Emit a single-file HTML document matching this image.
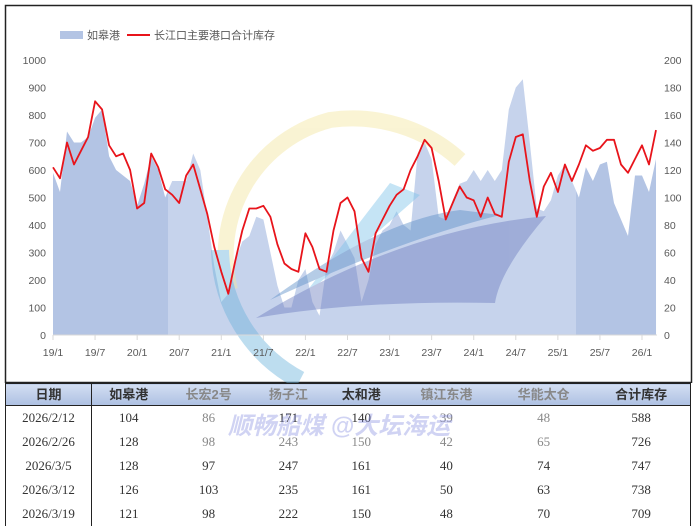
<!DOCTYPE html>
<html><head><meta charset="utf-8">
<style>
body{margin:0;background:#fff;width:694px;height:528px;overflow:hidden;font-family:"Liberation Sans","Noto Sans CJK SC",sans-serif;}
#wrap{position:relative;width:694px;height:528px;}
svg{position:absolute;left:0;top:0;}
table{position:absolute;left:5px;top:383px;width:686px;border-collapse:collapse;font-family:"Liberation Serif","Noto Serif CJK SC",serif;font-size:13px;color:#333;}
th{height:21px;padding:0;line-height:21px;font-family:"Liberation Sans","Noto Sans CJK SC",sans-serif;font-weight:bold;font-size:13px;background:linear-gradient(#d3def2,#adc0e2);border-top:1px solid #222;border-bottom:1px solid #222;}
td{height:24px;padding:0;line-height:24px;text-align:center;}
.g{color:#888;}
.c1{border-right:1px solid #222;}
tr td:last-child,tr th:last-child{border-right:1px solid #222;}
tr td:first-child,tr th:first-child{border-left:1px solid #222;}
</style></head><body>
<div id="wrap">
<svg id="chart" width="694" height="383"></svg>
<table>
<tr><th class="c1" style="width:85px">日期</th><th>如皋港</th><th class="g">长宏2号</th><th class="g">扬子江</th><th>太和港</th><th class="g">镇江东港</th><th class="g">华能太仓</th><th>合计库存</th></tr>
<tr><td class="c1">2026/2/12</td><td>104</td><td class="g">86</td><td>171</td><td>140</td><td class="g">39</td><td class="g">48</td><td>588</td></tr>
<tr><td class="c1">2026/2/26</td><td>128</td><td class="g">98</td><td class="g">243</td><td class="g">150</td><td class="g">42</td><td class="g">65</td><td>726</td></tr>
<tr><td class="c1">2026/3/5</td><td>128</td><td>97</td><td>247</td><td>161</td><td>40</td><td>74</td><td>747</td></tr>
<tr><td class="c1">2026/3/12</td><td>126</td><td>103</td><td>235</td><td>161</td><td>50</td><td>63</td><td>738</td></tr>
<tr><td class="c1">2026/3/19</td><td>121</td><td>98</td><td>222</td><td>150</td><td>48</td><td>70</td><td>709</td></tr>
</table>
<div style="position:absolute;left:228px;top:406px;font-size:24px;font-weight:bold;font-style:italic;color:rgba(120,130,220,0.35);font-family:'Liberation Sans','Noto Sans CJK SC',sans-serif;">顺畅船煤 @大坛海运</div>
</div>
<script>
const xTicks=["19/1","19/7","20/1","20/7","21/1","21/7","22/1","22/7","23/1","23/7","24/1","24/7","25/1","25/7","26/1"];
const leftTicks=[0,100,200,300,400,500,600,700,800,900,1000];
const rightTicks=[0,20,40,60,80,100,120,140,160,180,200];
const totalInv=[610,570,700,620,670,720,850,820,690,650,660,600,460,480,660,610,530,510,480,580,620,530,440,320,230,150,270,380,460,460,470,430,330,260,240,230,370,320,240,230,380,480,500,450,280,230,370,420,470,510,530,600,650,710,680,560,420,480,540,500,490,430,500,440,430,630,720,730,560,430,540,590,520,620,560,620,690,670,680,710,710,620,590,640,690,620,745];
const rugaoLeftEq=[590,520,740,700,700,720,790,820,650,600,580,560,470,550,650,600,500,560,560,560,660,600,430,250,120,150,270,340,360,430,420,300,180,100,100,200,240,120,70,250,300,380,330,280,120,200,330,380,400,450,400,380,660,700,640,430,420,490,550,560,600,560,600,560,600,820,900,930,700,460,450,490,580,620,560,500,610,560,620,630,480,420,360,580,580,520,640];
const rugao=rugaoLeftEq.map(v=>v/5);
const NS="http://www.w3.org/2000/svg";
const svg=document.getElementById('chart');
const X0=53,MPX=7.012,Y0=335,YH=275;
const xs=m=>X0+m*MPX;
const yL=v=>Y0-v/1000*YH;
const yR=v=>Y0-v/200*YH;
function el(t,a,p){const e=document.createElementNS(NS,t);for(const k in a)e.setAttribute(k,a[k]);(p||svg).appendChild(e);return e;}
const frame=el('rect',{x:5.5,y:5.5,width:686,height:377,fill:'#fff',stroke:'#222','stroke-width':1.5});


let d=`M${xs(0)},${Y0}`;rugao.forEach((v,i)=>d+=`L${xs(i).toFixed(1)},${yR(v).toFixed(1)}`);d+=`L${xs(rugao.length-1)},${Y0}Z`;
const defs=el('defs',{});
const c1=el('clipPath',{id:'c1'},defs);el('rect',{x:0,y:0,width:168,height:400},c1);
const c2=el('clipPath',{id:'c2'},defs);el('rect',{x:168,y:0,width:408,height:400},c2);
const c3=el('clipPath',{id:'c3'},defs);el('rect',{x:576,y:0,width:200,height:400},c3);
[['c1','#b3c4e4'],['c2','#c6d3ec'],['c3','#b3c4e4']].forEach(([c,f])=>{
 const a=el('path',{d:d,fill:f,'clip-path':`url(#${c})`});
 
 
});
const wm=el('g',{opacity:0.45});


el('path',{d:'M230,290 A140,140 0 0 1 330,120 A160,160 0 0 1 460,160',fill:'none',stroke:'#f3e6a0','stroke-width':16},wm);
el('path',{d:'M220,250 A150,150 0 0 0 300,380',fill:'none',stroke:'#6fb4dc','stroke-width':18},wm);
el('path',{d:'M300,300 L390,183 L420,195 Z',fill:'#7fc4ea'},wm);
el('path',{d:'M270,300 Q380,220 460,210 L500,215 Q400,240 270,300 Z',fill:'#5d8fc8'},wm);
el('path',{d:'M256,318 Q400,230 546,216 Q500,270 495,303 Q360,300 256,318 Z',fill:'#6f7fc0'},wm);
el('line',{x1:X0,y1:Y0,x2:657,y2:Y0,stroke:'#d9d9d9'});
xTicks.forEach((t,i)=>{
 const x=X0+i*6*MPX;
 el('line',{x1:x,y1:Y0,x2:x,y2:Y0+5,stroke:'#d9d9d9'});
 const tx=el('text',{x:x,y:356,'text-anchor':'middle','font-size':10.5,fill:'#595959'});tx.textContent=t;
 
 
});
leftTicks.forEach(v=>{const t=el('text',{x:46,y:yL(v)+4,'text-anchor':'end','font-size':10.5,fill:'#595959'});t.textContent=v;
 
 });
rightTicks.forEach(v=>{const t=el('text',{x:664,y:yR(v)+4,'text-anchor':'start','font-size':10.5,fill:'#595959'});t.textContent=v;
 
 });
let ld='';totalInv.forEach((v,i)=>ld+=(i?'L':'M')+xs(i).toFixed(1)+','+yL(v).toFixed(1));
const ln=el('path',{d:ld,fill:'none',stroke:'#e8141b','stroke-width':1.8,'stroke-linejoin':'round'});


const lg=el('g',{});


el('rect',{x:60,y:31,width:23,height:8,fill:'#b3c4e4'},lg);
const t1=el('text',{x:87,y:39,'font-size':11,fill:'#595959'},lg);t1.textContent='如皋港';
el('line',{x1:127,y1:35,x2:150,y2:35,stroke:'#e8141b','stroke-width':2},lg);
const t2=el('text',{x:154,y:39,'font-size':11,fill:'#595959'},lg);t2.textContent='长江口主要港口合计库存';
</script>
</body></html>
